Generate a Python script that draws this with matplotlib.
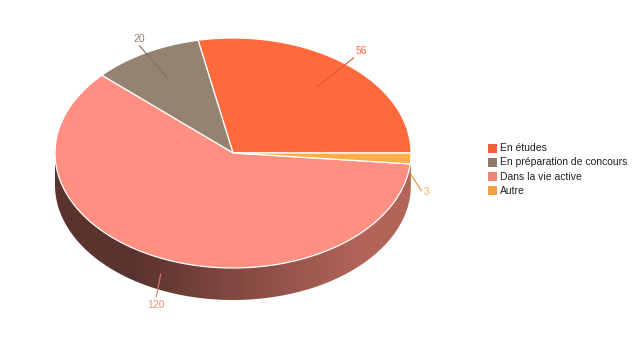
import numpy as np
import matplotlib
matplotlib.use("Agg")
import matplotlib.pyplot as plt
from matplotlib.patches import Polygon, Rectangle
from matplotlib.colors import to_rgb

plt.rcParams['font.family'] = ['Liberation Sans', 'DejaVu Sans']

categories = ["En études", "En préparation de concours", "Dans la vie active", "Autre"]
values = [56, 20, 120, 3]
colors = ["#ff6a3d", "#958271", "#ff8f80", "#ffad45"]

# layout of the 3d pie (pixels)
cx, cy = 233, 153
rx, ry = 178, 115
depth = 32


def pt(t, r=1.0, dy=0.0):
    return cx + r * rx * np.cos(t), cy - r * ry * np.sin(t) + dy


fig = plt.figure(figsize=(6.4, 3.4), dpi=100)
ax = fig.add_axes([0, 0, 1, 1])
ax.set_xlim(0, 640)
ax.set_ylim(340, 0)
ax.axis('off')

total = float(sum(values))
edges = np.concatenate([[0], np.cumsum(values)]) / total * 2 * np.pi

# sides (front half only), shaded left -> right
for i in range(len(values)):
    a1 = max(edges[i], np.pi)
    a2 = min(edges[i + 1], 2 * np.pi)
    if a2 <= a1:
        continue
    t = np.linspace(a1, a2, 200)
    xs, ys = pt(t)
    poly = np.vstack([np.column_stack([xs, ys]),
                      np.column_stack([xs[::-1], ys[::-1] + depth])])
    patch = Polygon(poly, closed=True, facecolor='none', edgecolor='none')
    ax.add_patch(patch)
    base = np.array(to_rgb(colors[i]))
    dark, light = base * 0.36, base * 0.70
    gx = np.linspace(0, 1, 400)
    f = np.clip((gx - 0.23) / (0.857 - 0.23), 0, 1)
    grad = dark[None, :] * (1 - f[:, None]) + light[None, :] * f[:, None]
    im = ax.imshow(grad[None, :, :], extent=(cx - rx, cx + rx, cy + ry + depth, cy - ry),
                   aspect='auto', interpolation='bilinear', zorder=1)
    im.set_clip_path(patch)

# top faces
for i in range(len(values)):
    t = np.linspace(edges[i], edges[i + 1], 200)
    xs, ys = pt(t)
    poly = np.vstack([[cx, cy], np.column_stack([xs, ys])])
    ax.add_patch(Polygon(poly, closed=True, facecolor=colors[i], edgecolor='white',
                         linewidth=0.9, zorder=2))

# value labels with leader lines
for i in range(len(values)):
    m = (edges[i] + edges[i + 1]) / 2
    c, s = np.cos(m), np.sin(m)
    if s < 0:
        x0, y0 = pt(m, 1.0, depth / 2)
        x1, y1 = pt(m, 1.06, depth)
    else:
        x0, y0 = pt(m, 0.75)
        x1, y1 = pt(m, 1.07)
    lc = np.array(to_rgb(colors[i])) * 0.85
    ax.plot([x0, x1], [y0, y1], color=lc, lw=0.8, zorder=3)
    ha = 'left' if c > 0.5 else ('right' if c < -0.5 else 'center')
    va = 'bottom' if s > 0.5 else ('top' if s < -0.5 else 'center')
    tx = x1 + (2 if ha == 'left' else (-2 if ha == 'right' else 0))
    ty = y1 + (-2 if va == 'bottom' else (4 if va == 'top' else 1))
    ax.text(tx, ty, str(values[i]), color=colors[i], fontsize=7.5, ha=ha, va=va, zorder=4)

# legend
for i, cat in enumerate(categories):
    y = 148 + i * 14.3
    sw = np.array(to_rgb(colors[i])) * 0.93
    ax.add_patch(Rectangle((488, y - 4.5), 9, 9, facecolor=sw, edgecolor='none'))
    ax.text(500, y, cat, fontsize=7.5, color='#222222', ha='left', va='center')

fig.savefig("out.png", dpi=100)
